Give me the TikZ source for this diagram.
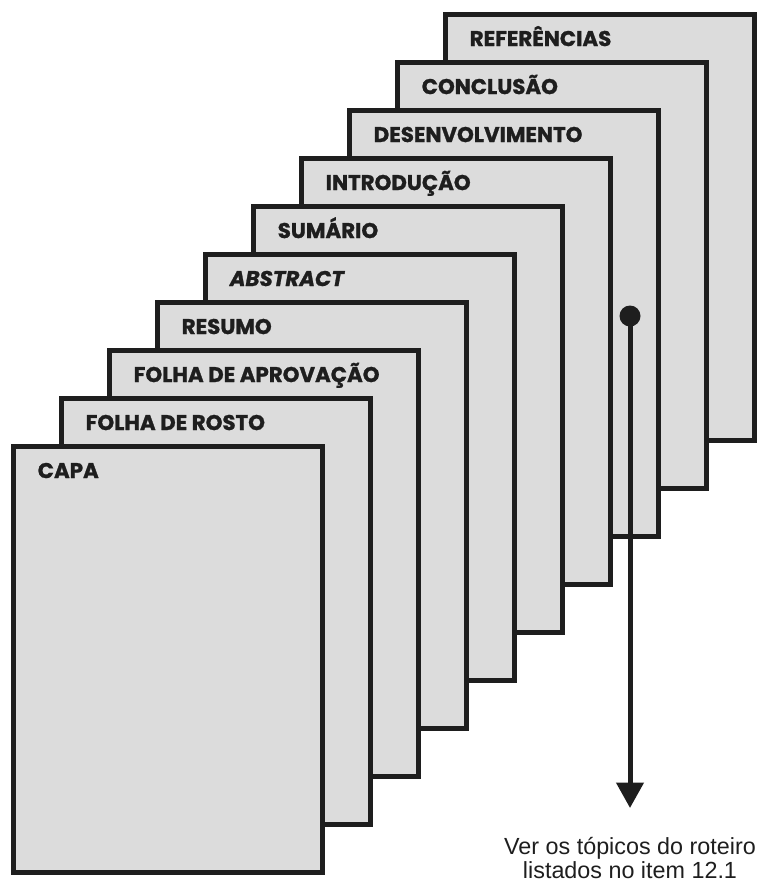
\documentclass[tikz,border=0pt]{standalone}
\usepackage{fontspec}
\setmainfont{Liberation Sans}
\newfontfamily\capafont{Poppins}[BoldFeatures={FakeBold=1.2}, BoldItalicFeatures={FakeBold=1.2}]
\usetikzlibrary{positioning, arrows.meta}
\definecolor{tinta}{HTML}{1E1E1E}
\definecolor{folha}{HTML}{DCDCDC}
\tikzset{
  >={Triangle[width=20pt, length=19pt]},
  node distance=36pt and 36pt,
  pagina/.style={draw=tinta, fill=folha, line width=3.75pt, minimum width=231.75pt, minimum height=319.5pt, inner sep=0pt},
  titulo/.style={font=\capafont\bfseries\fontsize{16}{18}\selectfont, text=tinta, inner sep=0pt, anchor=base west, xshift=20.25pt, yshift=-25.9pt},
  ponto/.style={circle, fill=tinta, minimum size=15.75pt, inner sep=0pt},
  seta/.style={->, draw=tinta, line width=3.75pt},
  nota/.style={font=\fontsize{17.5}{15.75}\selectfont, align=center, text=tinta, inner sep=0pt},
}

\begin{document}
\begin{tikzpicture}[x=0.75pt, y=-0.75pt, on grid]
	\useasboundingbox (0,0) rectangle (762,883);

	% folhas, da ultima para a capa
	\node[pagina, label={[titulo]north west:REFERÊNCIAS}] (referencias) at (599.5,227) {};
	\node[pagina, below left=of referencias, label={[titulo]north west:CONCLUSÃO}] (conclusao) {};
	\node[pagina, below left=of conclusao, label={[titulo]north west:DESENVOLVIMENTO}] (desenvolvimento) {};
	\node[pagina, below left=of desenvolvimento, label={[titulo]north west:INTRODUÇÃO}] (introducao) {};
	\node[pagina, below left=of introducao, label={[titulo]north west:SUMÁRIO}] (sumario) {};
	\node[pagina, below left=of sumario, label={[titulo]north west:\itshape ABSTRACT}] (abstract) {};
	\node[pagina, below left=of abstract, label={[titulo]north west:RESUMO}] (resumo) {};
	\node[pagina, below left=of resumo, label={[titulo]north west:FOLHA DE APROVAÇÃO}] (aprovacao) {};
	\node[pagina, below left=of aprovacao, label={[titulo]north west:FOLHA DE ROSTO}] (rosto) {};
	\node[pagina, below left=of rosto, label={[titulo]north west:CAPA}] (capa) {};

	% chamada para o roteiro
	\node[ponto] (marca) at (630,316) {};
	\coordinate (ponta) at (630,808);
	\draw[seta] (marca.center) -- (ponta);
	\node[nota, below=52.5pt of ponta, anchor=base] (roteiro) {Ver os tópicos do roteiro\\listados no item 12.1};
\end{tikzpicture}
\end{document}
